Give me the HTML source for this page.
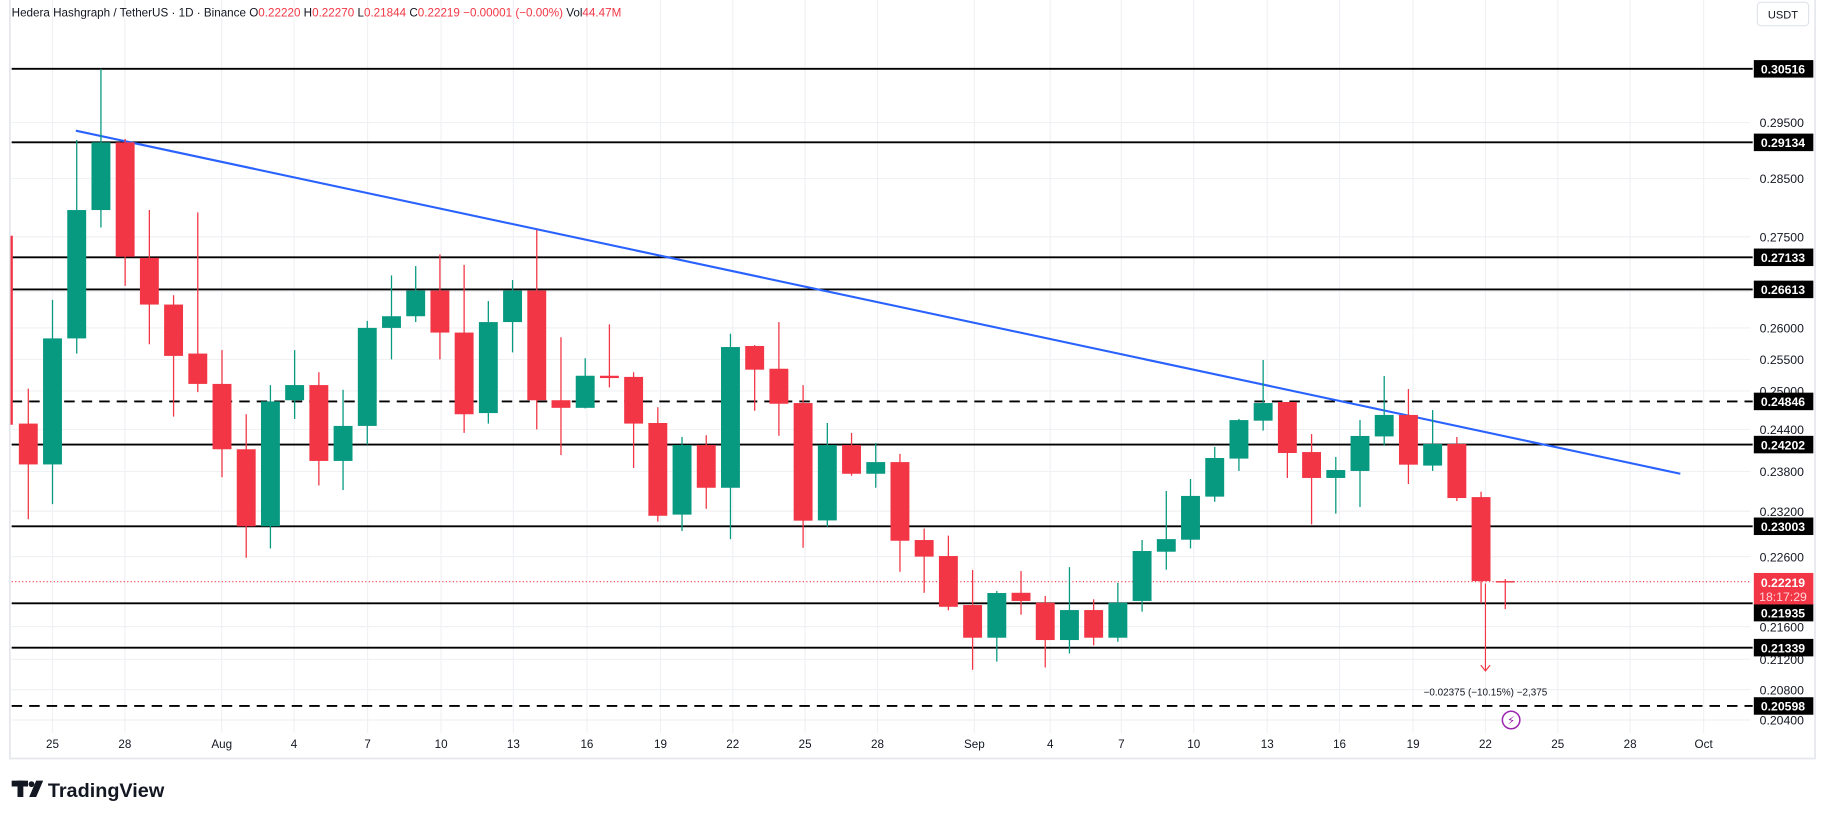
<!DOCTYPE html>
<html><head><meta charset="utf-8"><style>
html,body{margin:0;padding:0;background:#fff;overflow:hidden}
svg{display:block}
text{font-family:"Liberation Sans","DejaVu Sans",sans-serif}
</style></head><body>
<svg id="s" width="1825" height="818" viewBox="0 0 1564 701" preserveAspectRatio="none" xmlns="http://www.w3.org/2000/svg">
<rect x="0" y="0" width="1564" height="701" fill="#fff"/>
<rect x="8.5" y="-2" width="1547" height="652" fill="none" stroke="#e6e8ee" stroke-width="1.5"/>
<g id="grid" stroke="#f0f1f4" stroke-width="1"></g>
<g id="axis" font-size="10.5" fill="#131722"></g>
<g id="lines"></g>
<line x1="65" y1="112" x2="1440" y2="406" stroke="#2962ff" stroke-width="1.8"/>
<line x1="10" y1="498.5" x2="1500" y2="498.5" stroke="#f23645" stroke-width="1" stroke-dasharray="1,2"/>
<g id="candles"></g>
<text x="10" y="14" font-size="10" fill="#131722">Hedera Hashgraph / TetherUS · 1D · Binance  O<tspan fill="#f23645">0.22220</tspan>  H<tspan fill="#f23645">0.22270</tspan>  L<tspan fill="#f23645">0.21844</tspan>  C<tspan fill="#f23645">0.22219</tspan>  <tspan fill="#f23645">−0.00001 (−0.00%)</tspan>  Vol<tspan fill="#f23645">44.47M</tspan></text>
<rect x="1506" y="2" width="44" height="20" rx="3" fill="#fff" stroke="#e0e3eb"/>
<text x="1528" y="16" font-size="9.5" text-anchor="middle" fill="#131722">USDT</text>
<line x1="1273" y1="500" x2="1273" y2="575" stroke="#f23645" stroke-width="1"/>
<polyline points="1269,570 1273,575 1277,570" fill="none" stroke="#f23645" stroke-width="1"/>
<text x="1273" y="596" font-size="8.5" text-anchor="middle" fill="#131722">−0.02375 (−10.15%) −2,375</text>
<circle cx="1295" cy="617" r="7.5" fill="#fff" stroke="#9c27b0" stroke-width="1.3"/>
<text x="1295" y="621" font-size="10" text-anchor="middle" fill="#9c27b0">⚡</text>
<rect x="1503" y="491" width="51" height="27" fill="#f23645"/>
<text x="1528" y="503" font-size="10.5" font-weight="bold" text-anchor="middle" fill="#fff">0.22219</text>
<text x="1528" y="515" font-size="10.5" text-anchor="middle" fill="#ffd6d9">18:17:29</text>
<rect x="10" y="669" width="14" height="5" fill="#131722"/>
<rect x="15" y="669" width="5" height="14" fill="#131722"/>
<circle cx="27" cy="672" r="2.5" fill="#131722"/>
<polygon points="31,669 37,669 31,683 25,683" fill="#131722"/>
<text x="41" y="683" font-size="17" font-weight="bold" fill="#131722">TradingView</text>
</svg>
<script>
var NS="http://www.w3.org/2000/svg";
function el(p,t,a,txt){var e=document.createElementNS(NS,t);for(var k in a)e.setAttribute(k,a[k]);if(txt!=null)e.textContent=txt;document.getElementById(p).appendChild(e);return e;}
var ticks=[["0.29500",105],["0.28500",153],["0.27500",203],["0.26500",250],["0.26000",281],["0.25500",308],["0.25000",335],["0.24400",368],["0.23800",404],["0.23200",438],["0.22600",477],["0.21600",537],["0.21200",565],["0.20800",591],["0.20400",617]];
ticks.forEach(function(t){el("grid","line",{x1:10,y1:t[1],x2:1500,y2:t[1]});});
var dates=[["25",45],["28",107],["Aug",190],["4",252],["7",315],["10",378],["13",440],["16",503],["19",566],["22",628],["25",690],["28",752],["Sep",835],["4",900],["7",961],["10",1023],["13",1086],["16",1148],["19",1211],["22",1273],["25",1335],["28",1397],["Oct",1460]];
dates.forEach(function(d){el("grid","line",{x1:d[1],y1:0,x2:d[1],y2:628});});
ticks.forEach(function(t){el("axis","text",{x:1508,y:t[1]+4},t[0]);});
dates.forEach(function(d){el("axis","text",{x:d[1],y:641,"text-anchor":"middle","font-size":10},d[0]);});
var lv=[["0.30516",59,0],["0.29134",122,0],["0.27133",220.5,0],["0.26613",248,0],["0.24846",344,1],["0.24202",381,0],["0.23003",451,0],["0.21935",517,0,525],["0.21339",555,0],["0.20598",605,1]];
lv.forEach(function(l){
 var a={x1:10,y1:l[1],x2:1502,y2:l[1],stroke:"#000","stroke-width":1.6};
 if(l[2])a["stroke-dasharray"]="9,6";
 el("lines","line",a);
 var cy=l[3]||l[1];
 el("lines","rect",{x:1503,y:cy-7.5,width:51,height:15,fill:"#000"});
 el("lines","text",{x:1528,y:cy+4,"font-size":10.5,"font-weight":"bold","text-anchor":"middle",fill:"#fff"},l[0]);
});
var C=[
[-1,363,398,333,445],[0,398,290,257,432],[1,290,180,120,303],[2,180,122,59,195],[3,122,220,119,245],
[4,221,261,180,295],[5,261,305,253,357],[6,303,329,182,336],[7,329,385,300,409],[8,385,451,355,478],
[9,451,344,330,470],[10,343,330,300,359],[11,330,395,319,416],[12,395,365,334,420],[13,365,281,275,381],
[14,281,271,236,308],[15,271,249,228,276],[16,249,285,218,308],[17,285,355,227,371],[18,354,276,258,363],
[19,276,249,240,302],[20,249,343,197,368],[21,343,349.5,289,390],[22,349.5,322,307,350],[23,322,324,278,332],
[24,323,363,319,401],[25,362.5,442,349,447],[26,441,381.4,374.5,455],[27,381.4,418,373,436],[28,418,297.4,286,462],
[29,296.5,316.8,295.7,352],[30,316,346,276,373.4],[31,345.4,446.2,330,469.4],[32,446,381.4,362.5,451.4],[33,381.4,406,371,407.7],
[34,406,396,379.7,418],[35,396,463.4,389,490],[36,462.8,477,453,508],[37,476.5,520,459,523],[38,518.5,546.5,488.5,574],
[39,546.5,508.2,506.5,567],[40,508,515,489.4,526.8],[41,516.5,548.5,510.8,572],[42,548.5,522.8,486,560],[43,522.8,546.5,513.6,553],
[44,546.5,516.5,499.4,550],[45,515,472.2,462.8,524.2],[46,472.8,462,420.8,488.2],[47,462.5,425,410.5,470],[48,425.6,392.5,383,430],
[49,393,360,359,403.6],[50,360.5,345.4,308.5,369],[51,344.5,388.2,344.5,409.6],[52,387.4,409.6,372,449.4],[53,409.6,402.8,391.6,440.2],
[54,403.6,373.6,360,434.5],[55,374,355.6,322.2,382],[56,355.6,398.2,333.4,414.8],[57,399,380.5,351.4,403.6],[58,380.5,426.8,374.5,429.4],
[59,426,498,421.4,517],[60,498,498.6,496.3,522]
];
C.forEach(function(c){
 var x=45+20.75*c[0];
 var up=c[2]<c[1];
 var col=up?"#089981":"#f23645";
 el("candles","line",{x1:x,y1:c[3],x2:x,y2:c[4],stroke:col,"stroke-width":1.1});
 var top=Math.min(c[1],c[2]),h=Math.max(Math.abs(c[1]-c[2]),1.2);
 el("candles","rect",{x:x-8.1,y:top,width:16.2,height:h,fill:col});
});
el("candles","rect",{x:9,y:202,width:2,height:162,fill:"#f23645"});
</script>
</body></html>
